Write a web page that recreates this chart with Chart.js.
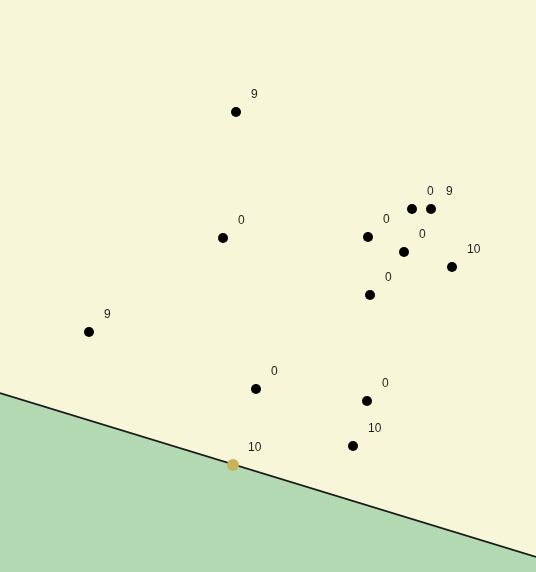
<!DOCTYPE html>
<html>
<head>
<meta charset="utf-8">
<script src="https://cdn.jsdelivr.net/npm/chart.js@4"></script>
<style>
  html, body { margin: 0; padding: 0; background: #f7f6d9; }
  #wrap { width: 536px; height: 572px; }
</style>
</head>
<body>
<div id="wrap"><canvas id="plot"></canvas></div>
<script>
// points (x right, y up)
const xs = [236, 223, 89, 256, 353, 367, 370, 368, 404, 412, 431, 452]
const ys = [460, 334, 240, 183, 126, 171, 277, 335, 320, 363, 363, 305]
const labels = ['9', '0', '9', '0', '10', '0', '0', '0', '0', '0', '9', '10']

// highlighted point lying on the boundary
const hiX = [233]
const hiY = [107]
const hiLabels = ['10']

// boundary line end points
const lineX = [0, 536]
const lineY = [179, 15]

const pts = xs.map((x, i) => ({ x, y: ys[i] }))
const hiPts = hiX.map((x, i) => ({ x, y: hiY[i] }))
const linePts = lineX.map((x, i) => ({ x, y: lineY[i] }))

const bgPlugin = {
  id: 'bg',
  beforeDraw(chart) {
    const { ctx, width, height } = chart
    ctx.save()
    ctx.fillStyle = '#f7f6d9'
    ctx.fillRect(0, 0, width, height)
    ctx.restore()
  }
}

const labelPlugin = {
  id: 'pointLabels',
  afterDatasetsDraw(chart) {
    const { ctx } = chart
    ctx.save()
    ctx.fillStyle = '#1e1e1e'
    ctx.font = '12px "Liberation Sans", Arial, sans-serif'
    ctx.textAlign = 'left'
    ctx.textBaseline = 'middle'
    ;[[1, labels], [2, hiLabels]].forEach(([idx, txt]) => {
      chart.getDatasetMeta(idx).data.forEach((el, i) => {
        ctx.fillText(txt[i], el.x + 15, el.y - 17)
      })
    })
    ctx.restore()
  }
}

new Chart(document.getElementById('plot'), {
  type: 'scatter',
  data: {
    datasets: [
      {
        type: 'line',
        data: linePts,
        borderColor: '#1a1a1a',
        borderWidth: 1.8,
        backgroundColor: '#b3d9b3',
        fill: 'start',
        pointRadius: 0,
        tension: 0,
        order: 3
      },
      {
        data: pts,
        backgroundColor: '#000',
        borderWidth: 0,
        pointRadius: 5,
        order: 2
      },
      {
        data: hiPts,
        backgroundColor: '#c8b35a',
        borderWidth: 0,
        pointRadius: 6,
        order: 1
      }
    ]
  },
  options: {
    responsive: true,
    maintainAspectRatio: false,
    animation: false,
    layout: { padding: 0, autoPadding: false },
    plugins: {
      legend: { display: false },
      tooltip: { enabled: false }
    },
    scales: {
      x: { type: 'linear', min: 0, max: 536, display: false },
      y: { type: 'linear', min: 0, max: 572, display: false }
    }
  },
  plugins: [bgPlugin, labelPlugin]
})
</script>
</body>
</html>
